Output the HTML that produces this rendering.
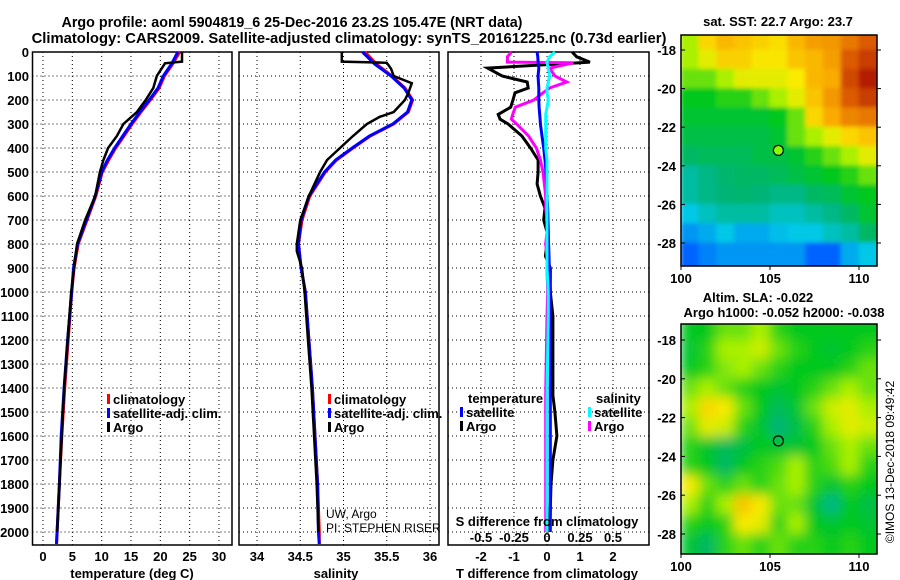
<!DOCTYPE html>
<html><head><meta charset="utf-8"><style>
html,body{margin:0;padding:0;background:#fff;}
svg{display:block;font-family:"Liberation Sans",sans-serif;}
.b{font-weight:bold;}
</style></head><body>
<svg id="fig" width="900" height="580" viewBox="0 0 900 580">
<rect width="900" height="580" fill="#fff"/>
<text x="292" y="27" text-anchor="middle" font-size="14.3" class="b">Argo profile: aoml 5904819_6 25-Dec-2016 23.2S 105.47E (NRT data)</text>
<text x="349" y="43" text-anchor="middle" font-size="14.8" class="b">Climatology: CARS2009. Satellite-adjusted climatology: synTS_20161225.nc (0.73d earlier)</text>
<text x="778" y="26" text-anchor="middle" font-size="13" class="b">sat. SST: 22.7 Argo: 23.7</text>
<text x="758" y="302" text-anchor="middle" font-size="13" class="b">Altim. SLA: -0.022</text>
<text x="784" y="317" text-anchor="middle" font-size="13" class="b">Argo h1000: -0.052 h2000: -0.038</text>
<text transform="translate(894,462) rotate(-90)" text-anchor="middle" font-size="12">©IMOS 13-Dec-2018 09:49:42</text>
<g id="g"></g>
</svg>
<script>
// ---- data ----
const depthTicks=[0,100,200,300,400,500,600,700,800,900,1000,1100,1200,1300,1400,1500,1600,1700,1800,1900,2000];
const tempTicks=[0,5,10,15,20,25,30];
const salTicks=[34,34.5,35,35.5,36];
const tdiffTicks=[-2,-1,0,1,2];
const sdiffTicks=[-0.5,-0.25,0,0.25,0.5];
const sdiffLabels=["-0.5","-0.25","0","0.25","0.5"];
const argoTempDepth=[0,40,47,62,100,150,200,250,300,350,400,450,500,600,700,800,900,1000,1200,1400,1600,1800,2000];
const argoTemp=[23.7,23.7,20.8,20.4,19.4,18.8,17.5,16.0,13.7,12.6,11.1,10.3,9.7,8.9,7.2,5.8,5.3,4.8,4.2,3.6,3.2,2.8,2.4];
const climDepth=[0,50,100,150,200,250,300,350,400,450,500,600,700,800,900,1000,1200,1400,1600,1800,2000,2050];
const climTemp=[23.3,22.1,20.7,19.8,18.3,16.7,15.2,13.8,12.4,11.2,10.1,9.0,7.5,6.0,5.3,4.9,4.3,3.7,3.2,2.8,2.4,2.3];
const satTemp=[23.0,21.9,20.5,19.6,18.1,16.5,15.0,13.6,12.2,11.0,10.0,8.9,7.4,5.9,5.2,4.9,4.2,3.6,3.1,2.8,2.4,2.3];
const argoSalDepth=[0,40,45,70,100,130,170,200,250,270,300,350,400,450,500,600,700,800,830,900,1000,1200,1400,1600,1800,2000];
const argoSal=[34.98,34.98,35.5,35.55,35.58,35.79,35.75,35.71,35.58,35.42,35.27,35.11,34.96,34.81,34.73,34.6,34.5,34.46,34.46,34.52,34.55,34.59,34.63,34.66,34.69,34.71];
const climSal=[35.25,35.38,35.56,35.71,35.80,35.75,35.58,35.31,35.11,34.92,34.79,34.61,34.52,34.48,34.51,34.56,34.60,34.64,34.67,34.70,34.72,34.72];
const satSal=[35.22,35.36,35.55,35.70,35.79,35.74,35.57,35.30,35.10,34.91,34.78,34.60,34.51,34.48,34.51,34.56,34.60,34.64,34.67,34.70,34.71,34.72];
const diffDepth=[0,20,42,45,67,100,125,150,170,200,230,260,280,300,350,400,450,500,550,600,650,700,750,800,850,900,1000,1100,1430,1500,1600,1700,1800,1900,2000];
const tdiffArgo=[0.76,0.9,1.3,1.0,-1.8,-1.36,-0.6,-0.57,-0.97,-1.03,-1.1,-1.48,-1.42,-1.18,-0.76,-0.5,-0.27,-0.27,-0.3,-0.2,-0.06,-0.1,0,0,-0.05,0.1,0.1,0.18,0.18,0.24,0.3,0.18,0.12,0.1,0.08];
const tdiffSat=[-0.3,-0.28,-0.27,-0.27,-0.25,-0.27,-0.26,-0.25,-0.25,-0.25,-0.24,-0.22,-0.21,-0.2,-0.15,-0.1,-0.06,-0.03,-0.01,0,0.02,0.03,0.04,0.05,0.06,0.07,0.1,0.1,0.1,0.1,0.1,0.1,0.1,0.1,0.1];
const sdiffArgo=[-0.27,-0.3,-0.3,0.2,0.02,0.06,0.15,0.02,-0.03,-0.1,-0.24,-0.26,-0.27,-0.23,-0.14,-0.08,-0.05,-0.03,-0.02,-0.01,-0.01,0,0,-0.01,0,0,0.005,0,-0.01,-0.01,-0.01,-0.01,-0.01,-0.01,-0.01];
const sdiffSat=[0.06,0.02,0,0,0.01,0.02,0.01,0,0,0.01,0,-0.01,-0.01,-0.01,-0.01,-0.01,0,0,0,0,0,0,0,0,0,0,0.01,0.01,0,0,0,0,0,0,0];
const mapLonTicks=[100,105,110];
const mapLatTicks=[-18,-20,-22,-24,-26,-28];
const sstGrid=[
[0.55,0.65,0.7,0.68,0.66,0.64,0.7,0.74,0.75,0.8,0.85],
[0.55,0.6,0.66,0.66,0.63,0.63,0.68,0.7,0.74,0.85,0.9],
[0.5,0.5,0.55,0.6,0.6,0.6,0.62,0.7,0.72,0.88,0.95],
[0.42,0.42,0.45,0.45,0.5,0.55,0.6,0.68,0.75,0.85,0.9],
[0.4,0.4,0.4,0.4,0.4,0.42,0.5,0.65,0.72,0.78,0.8],
[0.38,0.38,0.38,0.38,0.38,0.4,0.5,0.55,0.6,0.65,0.68],
[0.35,0.36,0.36,0.36,0.38,0.38,0.4,0.45,0.5,0.55,0.6],
[0.3,0.32,0.34,0.35,0.35,0.36,0.38,0.4,0.42,0.45,0.5],
[0.3,0.32,0.33,0.34,0.33,0.32,0.32,0.35,0.36,0.4,0.42],
[0.25,0.28,0.3,0.3,0.3,0.28,0.28,0.3,0.32,0.35,0.4],
[0.2,0.22,0.25,0.22,0.22,0.24,0.25,0.25,0.28,0.3,0.35],
[0.15,0.18,0.2,0.2,0.2,0.2,0.2,0.15,0.15,0.22,0.25]];
const slaGrid=[
[0.42,0.42,0.5,0.5,0.55,0.45,0.42,0.42,0.42,0.42,0.42],
[0.4,0.45,0.55,0.55,0.58,0.5,0.45,0.42,0.4,0.42,0.45],
[0.42,0.45,0.52,0.55,0.5,0.45,0.42,0.42,0.42,0.45,0.5],
[0.5,0.55,0.5,0.45,0.42,0.4,0.42,0.45,0.5,0.55,0.5],
[0.55,0.65,0.62,0.5,0.42,0.36,0.4,0.5,0.58,0.6,0.55],
[0.5,0.6,0.58,0.45,0.4,0.33,0.38,0.45,0.55,0.6,0.58],
[0.45,0.4,0.36,0.38,0.42,0.4,0.4,0.42,0.5,0.55,0.5],
[0.45,0.42,0.35,0.42,0.45,0.48,0.55,0.45,0.48,0.55,0.45],
[0.62,0.5,0.45,0.5,0.45,0.5,0.55,0.45,0.4,0.45,0.42],
[0.55,0.45,0.55,0.68,0.62,0.5,0.5,0.4,0.32,0.42,0.38],
[0.45,0.42,0.45,0.62,0.6,0.45,0.55,0.42,0.4,0.42,0.4],
[0.4,0.35,0.45,0.5,0.45,0.5,0.45,0.45,0.42,0.45,0.42]];
const argoLon=105.47, argoLat=-23.2;

// ---- drawing ----
const NS="http://www.w3.org/2000/svg";
const G=document.getElementById('g');
function mk(tag,attrs,parent){const e=document.createElementNS(NS,tag);for(const k in attrs)e.setAttribute(k,attrs[k]);(parent||G).appendChild(e);return e;}
function lin(d0,d1,r0,r1){return v=>r0+(v-d0)*(r1-r0)/(d1-d0);}
const Y=lin(0,2000,52,532);
const PT=52,PB=545;
const panels=[
 {x0:32.5,x1:232,sx:lin(0,30,43,219),ticks:tempTicks,labels:tempTicks.map(String),name:'temperature-panel'},
 {x0:239,x1:439,sx:lin(34,36,257,430),ticks:salTicks,labels:salTicks.map(String),name:'salinity-panel'},
 {x0:448,x1:649,sx:lin(0,2,547,613),ticks:tdiffTicks,labels:tdiffTicks.map(String),name:'difference-panel'}];
panels.forEach((p,pi)=>{
  const g=mk('g',{});
  
  
  depthTicks.forEach(d=>{const l=mk('line',{x1:p.x0,x2:p.x1,y1:Y(d),y2:Y(d),stroke:'#000','stroke-width':1,'stroke-dasharray':'1,3'},g);
    });
  p.ticks.forEach((t,i)=>{const l=mk('line',{x1:p.sx(t),x2:p.sx(t),y1:PT,y2:PB,stroke:'#000','stroke-width':1,'stroke-dasharray':'1,3'},g);
    
    const tx=mk('text',{x:p.sx(t),y:561,'text-anchor':'middle','font-size':13,'font-weight':'bold'},g);tx.textContent=p.labels[i];
    });
  const r=mk('rect',{x:p.x0,y:PT,width:p.x1-p.x0,height:PB-PT,fill:'none',stroke:'#000','stroke-width':1.5},g);
  
});
depthTicks.forEach(d=>{const t=mk('text',{x:29,y:Y(d)+5,'text-anchor':'end','font-size':13,'font-weight':'bold'});t.textContent=d;
  });
function line(depths,vals,sx,color,name,w){
  const pts=depths.map((d,i)=>sx(vals[i]).toFixed(1)+','+Y(d).toFixed(1)).join(' ');
  const e=mk('polyline',{points:pts,fill:'none',stroke:color,'stroke-width':w||3,'stroke-linejoin':'miter'});
  }
const p0=panels[0],p1=panels[1],p2=panels[2];
line(climDepth,climTemp,p0.sx,'#f00','temp-climatology-line',3);
line(climDepth,satTemp,p0.sx,'#00f','temp-satellite-line',3);
line(argoTempDepth,argoTemp,p0.sx,'#000','temp-argo-line',2.5);
line(climDepth,climSal,p1.sx,'#f00','sal-climatology-line',3);
line(climDepth,satSal,p1.sx,'#00f','sal-satellite-line',3);
line(argoSalDepth,argoSal,p1.sx,'#000','sal-argo-line',2.5);
const sdx=lin(0,0.5,547,613);
line(diffDepth,tdiffArgo,p2.sx,'#000','tdiff-argo-line',3);
line(diffDepth,sdiffArgo,sdx,'#f0f','sdiff-argo-line',3);
line(diffDepth,tdiffSat,p2.sx,'#00f','tdiff-satellite-line',3);
line(diffDepth,sdiffSat,sdx,'#0ff','sdiff-satellite-line',3);
sdiffTicks.forEach((t,i)=>{const tx=mk('text',{x:sdx(t),y:542,'text-anchor':'middle','font-size':13,'font-weight':'bold'});tx.textContent=sdiffLabels[i];
  });
function txt(x,y,s,size,name,opts){const t=mk('text',Object.assign({x:x,y:y,'font-size':size},opts||{}));t.textContent=s;
  return t;}
txt(132,578,'temperature (deg C)',13,'x-axis-title-temperature',{'text-anchor':'middle','font-weight':'bold'});
txt(336,578,'salinity',13,'x-axis-title-salinity',{'text-anchor':'middle','font-weight':'bold'});
txt(547,578,'T difference from climatology',13,'x-axis-title-tdiff',{'text-anchor':'middle','font-weight':'bold'});
txt(547,526,'S difference from climatology',13,'sdiff-axis-title',{'text-anchor':'middle','font-weight':'bold'});
function legend(x,y,color,label,name){
  const r=mk('rect',{x:x,y:y-10,width:3,height:10,fill:color});
  txt(x+6,y,label,13,name,{'font-weight':'bold'});}
legend(107,404,'#f00','climatology','legend-climatology-temp');
legend(107,418,'#00f','satellite-adj. clim.','legend-satellite-temp');
legend(107,432,'#000','Argo','legend-argo-temp');
legend(328,404,'#f00','climatology','legend-climatology-sal');
legend(328,418,'#00f','satellite-adj. clim.','legend-satellite-sal');
legend(328,432,'#000','Argo','legend-argo-sal');
txt(468,403,'temperature',13,'legend-title-temperature',{'font-weight':'bold'});
legend(460,417,'#00f','satellite','legend-tdiff-satellite');
legend(460,431,'#000','Argo','legend-tdiff-argo');
txt(596,403,'salinity',13,'legend-title-salinity',{'font-weight':'bold'});
legend(588,417,'#0ff','satellite','legend-sdiff-satellite');
legend(588,431,'#f0f','Argo','legend-sdiff-argo');
txt(326,518,'UW, Argo',12,'credit-uw');
txt(326,532,'PI: STEPHEN RISER',12,'credit-pi');
// colormap
const cstops=[[0,[0,0,190]],[0.15,[0,100,255]],[0.25,[0,200,230]],[0.33,[0,180,120]],[0.42,[0,200,30]],[0.55,[170,240,0]],[0.62,[250,235,0]],[0.72,[250,170,0]],[0.85,[220,90,0]],[1,[160,0,0]]];
function cmap(v){for(let i=1;i<cstops.length;i++){if(v<=cstops[i][0]){const a=cstops[i-1],b=cstops[i],f=(v-a[0])/(b[0]-a[0]);
  const c=a[1].map((x,k)=>Math.round(x+(b[1][k]-x)*f));return 'rgb('+c.join(',')+')';}}return 'rgb(160,0,0)';}
const defs=mk('defs',{});
const flt=mk('filter',{id:'blur',x:'-5%',y:'-5%',width:'110%',height:'110%'},defs);
mk('feGaussianBlur',{stdDeviation:'6',edgeMode:'duplicate'},flt);
const flt2=mk('filter',{id:'blur2',x:'-5%',y:'-5%',width:'110%',height:'110%'},defs);
mk('feGaussianBlur',{stdDeviation:'2',edgeMode:'duplicate'},flt2);
function drawMap(grid,box,name,fid){
  const cp=mk('clipPath',{id:'cp'+name},defs);
  mk('rect',{x:box.x0,y:box.y0,width:box.x1-box.x0,height:box.y1-box.y0},cp);
  const g=mk('g',{'clip-path':'url(#cp'+name+')'});
  
  const lx=lin(100,110,681,859), ly=lin(-18,-28,box.yA,box.yB);
  const inner=mk('g',{filter:'url(#'+fid+')'},g);
  grid.forEach((row,ri)=>row.forEach((v,ci)=>{
    const x=lx(100+ci), y=ly(-17-ri), w=lx(101)-lx(100), h=ly(-18)-ly(-17);
    const top=ri==0?box.y0-10:y;
    const bot=ri==grid.length-1?box.y1+10:y+h;
    const r=mk('rect',{x:x-0.5,y:top-0.5,width:w+(ci==row.length-1?20:1),height:bot-top+1,fill:cmap(v)},inner);
    }));
  const fr=mk('rect',{x:box.x0,y:box.y0,width:box.x1-box.x0,height:box.y1-box.y0,fill:'none',stroke:'#000','stroke-width':1.5});
  
  mapLatTicks.forEach(t=>{mk('line',{x1:box.x0,x2:box.x0+4,y1:ly(t),y2:ly(t),stroke:'#000'});mk('line',{x1:box.x1,x2:box.x1+4,y1:ly(t),y2:ly(t),stroke:'#000'});
    txt(676,ly(t)+5,String(t),13,'lat-tick-label',{'text-anchor':'end','font-weight':'bold'});});
  mapLonTicks.forEach(t=>{mk('line',{x1:lx(t),x2:lx(t),y1:box.y1,y2:box.y1+4,stroke:'#000'});
    txt(lx(t),box.y1+17,String(t),13,'lon-tick-label',{'text-anchor':'middle','font-weight':'bold'});});
  return {lx,ly};
}
const m1=drawMap(sstGrid,{x0:681,x1:877,y0:35,y1:266,yA:50,yB:243},'sst-map','blur2');
const c1=mk('circle',{cx:m1.lx(argoLon),cy:m1.ly(argoLat),r:5,fill:'#8f0',stroke:'#000','stroke-width':1.2});

const m2=drawMap(slaGrid,{x0:681,x1:877,y0:324,y1:554,yA:340,yB:534},'sla-map','blur');
const c2=mk('circle',{cx:m2.lx(argoLon),cy:m2.ly(argoLat),r:5,fill:'none',stroke:'#000','stroke-width':1.2});

</script>
</body></html>
